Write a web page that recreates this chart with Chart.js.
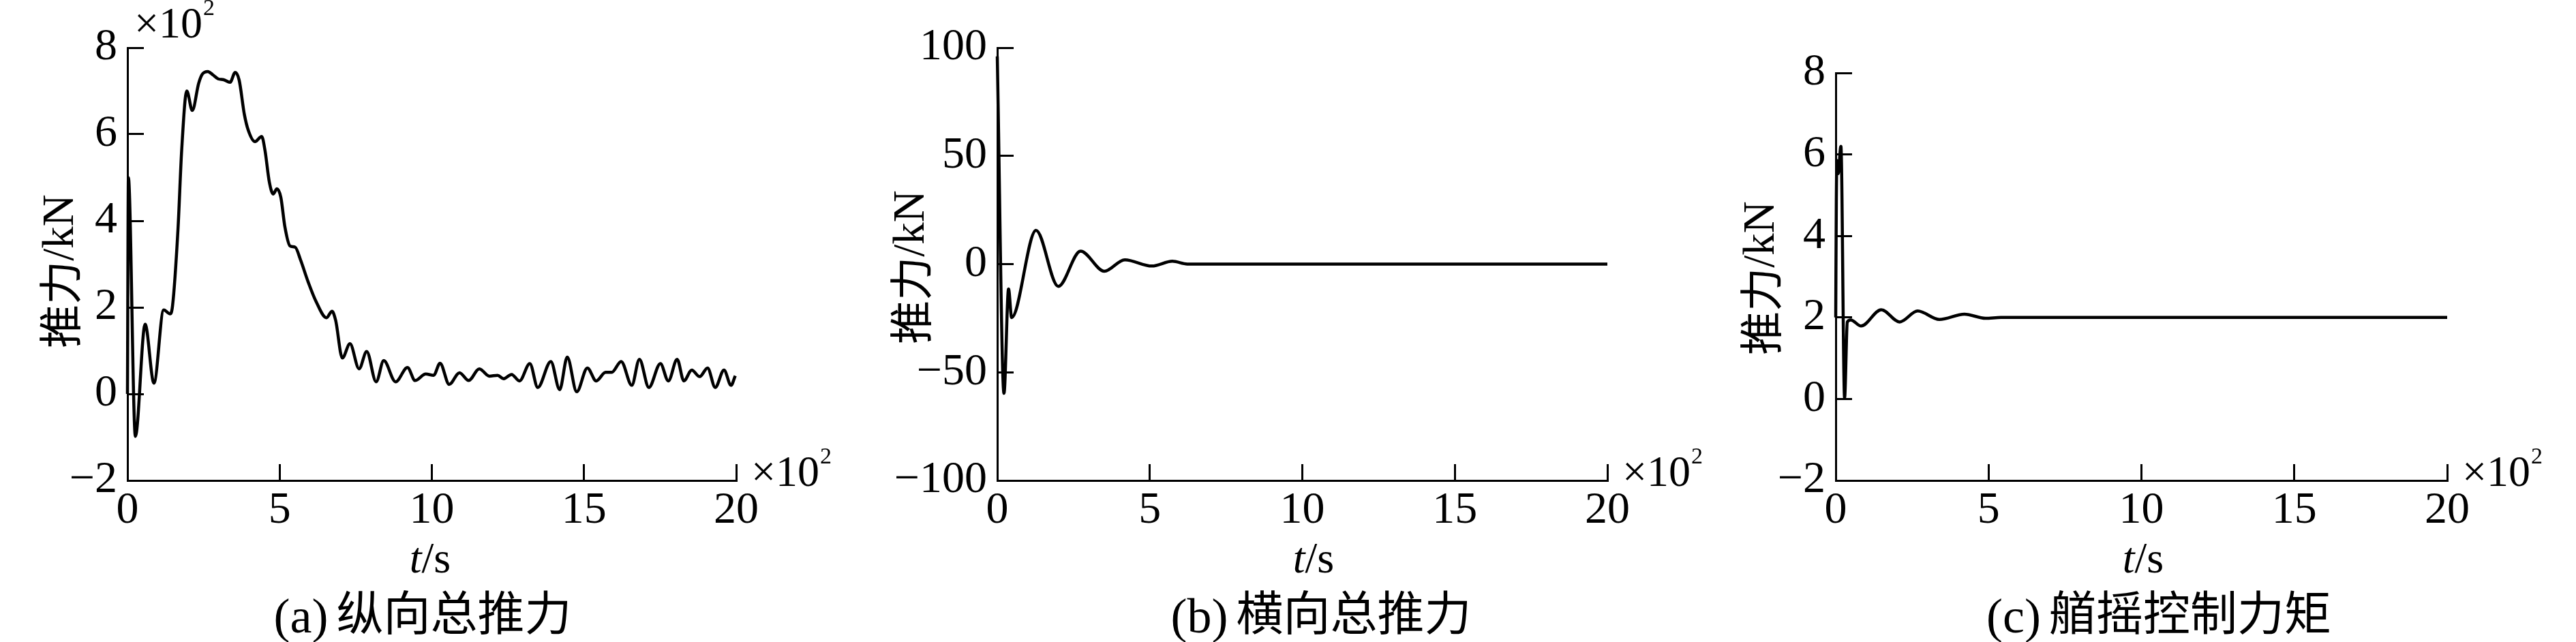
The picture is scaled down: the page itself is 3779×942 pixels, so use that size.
<!DOCTYPE html>
<html>
<head>
<meta charset="utf-8">
<script src="https://cdn.jsdelivr.net/npm/chart.js@4.4.0/dist/chart.umd.min.js"></script>
<style>
html,body{margin:0;padding:0;background:#fff;}
#wrap{position:relative;width:3779px;height:942px;background:#fff;overflow:hidden;}
canvas{position:absolute;left:0;top:0;}
</style>
</head>
<body>
<div id="wrap">
<canvas id="ca" width="3779" height="942"></canvas>
<canvas id="cb" width="3779" height="942"></canvas>
<canvas id="cc" width="3779" height="942"></canvas>
</div>
<script>
// ---------- data (time in ×10^2 s) ----------
const timeTicks = [0, 5, 10, 15, 20];

const yTicksA = [-2, 0, 2, 4, 6, 8];
const yTicksB = [-100, -50, 0, 50, 100];
const yTicksC = [-2, 0, 2, 4, 6, 8];

// (a) longitudinal total thrust, ×10^2 kN
const tA = [0, 0.03, 0.26, 0.58, 0.87, 1.19, 1.40, 1.48, 1.66, 1.78, 1.95, 2.13, 2.34, 2.46, 2.64, 2.81, 2.98, 3.16, 3.37, 3.54, 3.67, 3.84, 3.97, 4.19, 4.41, 4.52, 4.66, 4.79, 4.91, 5.04, 5.17, 5.34, 5.51, 5.69, 5.93, 6.2, 6.54, 6.72, 6.84, 7.06, 7.31, 7.61, 7.86, 8.17, 8.42, 8.81, 9.2, 9.45, 9.8, 10.06, 10.27, 10.57, 10.91, 11.21, 11.56, 11.89, 12.16, 12.36, 12.62, 12.88, 13.22, 13.48, 13.91, 14.2, 14.45, 14.76, 15.11, 15.4, 15.71, 15.91, 16.22, 16.57, 16.82, 17.13, 17.51, 17.77, 18.06, 18.28, 18.54, 18.8, 19.06, 19.31, 19.6, 19.83, 19.97];
const vA = [0, 5.0, -0.98, 1.61, 0.25, 1.94, 1.85, 2.03, 3.81, 5.62, 7.0, 6.55, 7.18, 7.39, 7.45, 7.37, 7.28, 7.26, 7.2, 7.43, 7.25, 6.46, 6.09, 5.83, 5.95, 5.62, 4.9, 4.62, 4.74, 4.54, 3.87, 3.42, 3.39, 3.09, 2.6, 2.13, 1.76, 1.91, 1.70, 0.83, 1.16, 0.58, 0.98, 0.28, 0.77, 0.28, 0.61, 0.31, 0.46, 0.43, 0.71, 0.22, 0.49, 0.31, 0.58, 0.41, 0.43, 0.35, 0.45, 0.3, 0.7, 0.15, 0.75, 0.1, 0.85, 0.05, 0.6, 0.3, 0.5, 0.5, 0.75, 0.2, 0.8, 0.15, 0.7, 0.3, 0.8, 0.3, 0.55, 0.4, 0.6, 0.15, 0.55, 0.2, 0.42];

// (b) lateral total thrust, kN
const tB = [0, 0.22, 0.37, 0.47, 1.27, 2.0, 2.73, 3.51, 4.18, 5.07, 5.74, 6.23, 20];
const vB = [96, -59.7, -11.5, -24.7, 15.6, -10.3, 6.0, -3.3, 2.0, -0.9, 1.3, 0, 0];

// (c) yaw control moment
const tC = [0, 0.02, 0.04, 0.08, 0.17, 0.29, 0.38, 0.49, 0.83, 1.49, 2.09, 2.68, 3.39, 4.21, 4.9, 5.4, 20];
const vC = [2.0, 4.85, 5.85, 5.53, 6.2, 0.03, 1.89, 1.94, 1.79, 2.19, 1.89, 2.16, 1.95, 2.08, 1.98, 2.0, 2.0];

const captionTags = ['(a)', '(b)', '(c)'];
const captionTexts = ['纵向总推力', '横向总推力', '艏摇控制力矩'];
const yTitleCJK = '推力';
const yTitleUnit = '/kN';

// ---------- styling / layout ----------
const SERIF = "'Liberation Serif','Times New Roman',serif";
const CJK = "'Noto Sans CJK SC','Noto Sans CJK JP',sans-serif";
const W = 3779, H = 942;
const YSCALE_W = 180;   // width reserved for y tick labels
const XSCALE_H = 110;   // height reserved for x tick labels

function fmt(v) { return String(v).replace('-', '\u2212'); }

function drawExp(ctx, x, baseline) {
  ctx.save();
  ctx.fillStyle = '#000';
  ctx.textAlign = 'left';
  ctx.textBaseline = 'alphabetic';
  ctx.font = '64px ' + SERIF;
  ctx.fillText('\u00d710', x, baseline);
  const w = ctx.measureText('\u00d710').width;
  ctx.font = '34px ' + SERIF;
  ctx.fillText('2', x + w + 1, baseline - 33);
  ctx.restore();
}

function makeTextPlugin(p) {
  return {
    id: 'panelText' + p.idx,
    afterDraw(chart) {
      const ctx = chart.ctx;
      const ca = chart.chartArea;
      ctx.save();
      ctx.fillStyle = '#000';
      // x-axis multiplier
      drawExp(ctx, ca.right + 22, ca.bottom + 8);
      if (p.topExp) drawExp(ctx, ca.left + 10, ca.top - 15);
      // y title (rotated)
      ctx.save();
      ctx.translate(p.yTitleX, p.yTitleY);
      ctx.rotate(-Math.PI / 2);
      ctx.textBaseline = 'middle';
      ctx.textAlign = 'left';
      ctx.font = '64px ' + CJK;
      const w1 = ctx.measureText(yTitleCJK).width;
      ctx.font = '65px ' + SERIF;
      const w2 = ctx.measureText(yTitleUnit).width;
      const start = -(w1 + w2) / 2;
      ctx.font = '64px ' + CJK;
      ctx.fillText(yTitleCJK, start, 0);
      ctx.font = '65px ' + SERIF;
      ctx.fillText(yTitleUnit, start + w1, 2);
      ctx.restore();
      // x title t/s
      ctx.textBaseline = 'alphabetic';
      ctx.textAlign = 'left';
      ctx.font = 'italic 64px ' + SERIF;
      const wt = ctx.measureText('t').width;
      ctx.font = '64px ' + SERIF;
      const ws = ctx.measureText('/s').width;
      const xs = p.xTitleX - (wt + ws) / 2;
      ctx.font = 'italic 64px ' + SERIF;
      ctx.fillText('t', xs, 840);
      ctx.font = '64px ' + SERIF;
      ctx.fillText('/s', xs + wt, 840);
      // caption
      ctx.font = '72px ' + SERIF;
      const wc1 = ctx.measureText(captionTags[p.idx]).width;
      ctx.font = '69px ' + CJK;
      const wc2 = ctx.measureText(captionTexts[p.idx]).width;
      const gap = 12;
      const cx = p.capX - (wc1 + gap + wc2) / 2;
      ctx.font = '72px ' + SERIF;
      ctx.fillText(captionTags[p.idx], cx, 928);
      ctx.font = '69px ' + CJK;
      ctx.fillText(captionTexts[p.idx], cx + wc1 + gap, 925);
      ctx.restore();
    }
  };
}

function makeChart(id, p) {
  const pts = p.t.map((t, i) => ({ x: t, y: p.v[i] }));
  const tickFont = { family: SERIF, size: 66, lineHeight: 1 };
  const grid = {
    display: true, drawOnChartArea: false, drawTicks: true,
    tickLength: -24, tickWidth: 3, tickColor: '#000'
  };
  return new Chart(document.getElementById(id), {
    type: 'line',
    data: {
      datasets: [{
        data: pts,
        borderColor: '#000',
        borderWidth: 4.5,
        pointRadius: 0,
        fill: false,
        cubicInterpolationMode: 'monotone',
        clip: false
      }]
    },
    options: {
      responsive: false,
      animation: false,
      events: [],
      layout: { padding: {
        left: p.left - YSCALE_W,
        right: W - p.right,
        top: p.top,
        bottom: H - p.bottom - XSCALE_H
      } },
      plugins: { legend: { display: false }, tooltip: { enabled: false } },
      scales: {
        x: {
          type: 'linear', position: 'bottom', min: 0, max: 20,
          afterBuildTicks: s => { s.ticks = timeTicks.map(v => ({ value: v })); },
          afterFit: s => { s.height = XSCALE_H; s.paddingLeft = 0; s.paddingRight = 0; s.paddingTop = 0; s.paddingBottom = 0; },
          grid: grid,
          border: { display: true, color: '#000', width: 3 },
          ticks: { font: tickFont, color: '#000', padding: 36, maxRotation: 0, autoSkip: false, callback: v => fmt(v) }
        },
        y: {
          type: 'linear', position: 'left', min: p.yTicks[0], max: p.yTicks[p.yTicks.length - 1],
          afterBuildTicks: s => { s.ticks = p.yTicks.map(v => ({ value: v })); },
          afterFit: s => { s.width = YSCALE_W; s.paddingLeft = 0; s.paddingRight = 0; s.paddingTop = 0; s.paddingBottom = 0; },
          grid: grid,
          border: { display: true, color: '#000', width: 3 },
          ticks: { font: tickFont, color: '#000', padding: 39, autoSkip: false, callback: v => fmt(v) }
        }
      }
    },
    plugins: [makeTextPlugin(p)]
  });
}

makeChart('ca', {
  idx: 0, t: tA, v: vA, yTicks: yTicksA, topExp: true,
  left: 187, right: 1080, top: 70, bottom: 705,
  yTitleX: 88, yTitleY: 398, xTitleX: 631, capX: 620
});
makeChart('cb', {
  idx: 1, t: tB, v: vB, yTicks: yTicksB, topExp: false,
  left: 1463, right: 2358, top: 70, bottom: 705,
  yTitleX: 1336, yTitleY: 392, xTitleX: 1927, capX: 1938
});
makeChart('cc', {
  idx: 2, t: tC, v: vC, yTicks: yTicksC, topExp: false,
  left: 2693, right: 3590, top: 107, bottom: 705,
  yTitleX: 2583, yTitleY: 408, xTitleX: 3144, capX: 3167
});
</script>
</body>
</html>
